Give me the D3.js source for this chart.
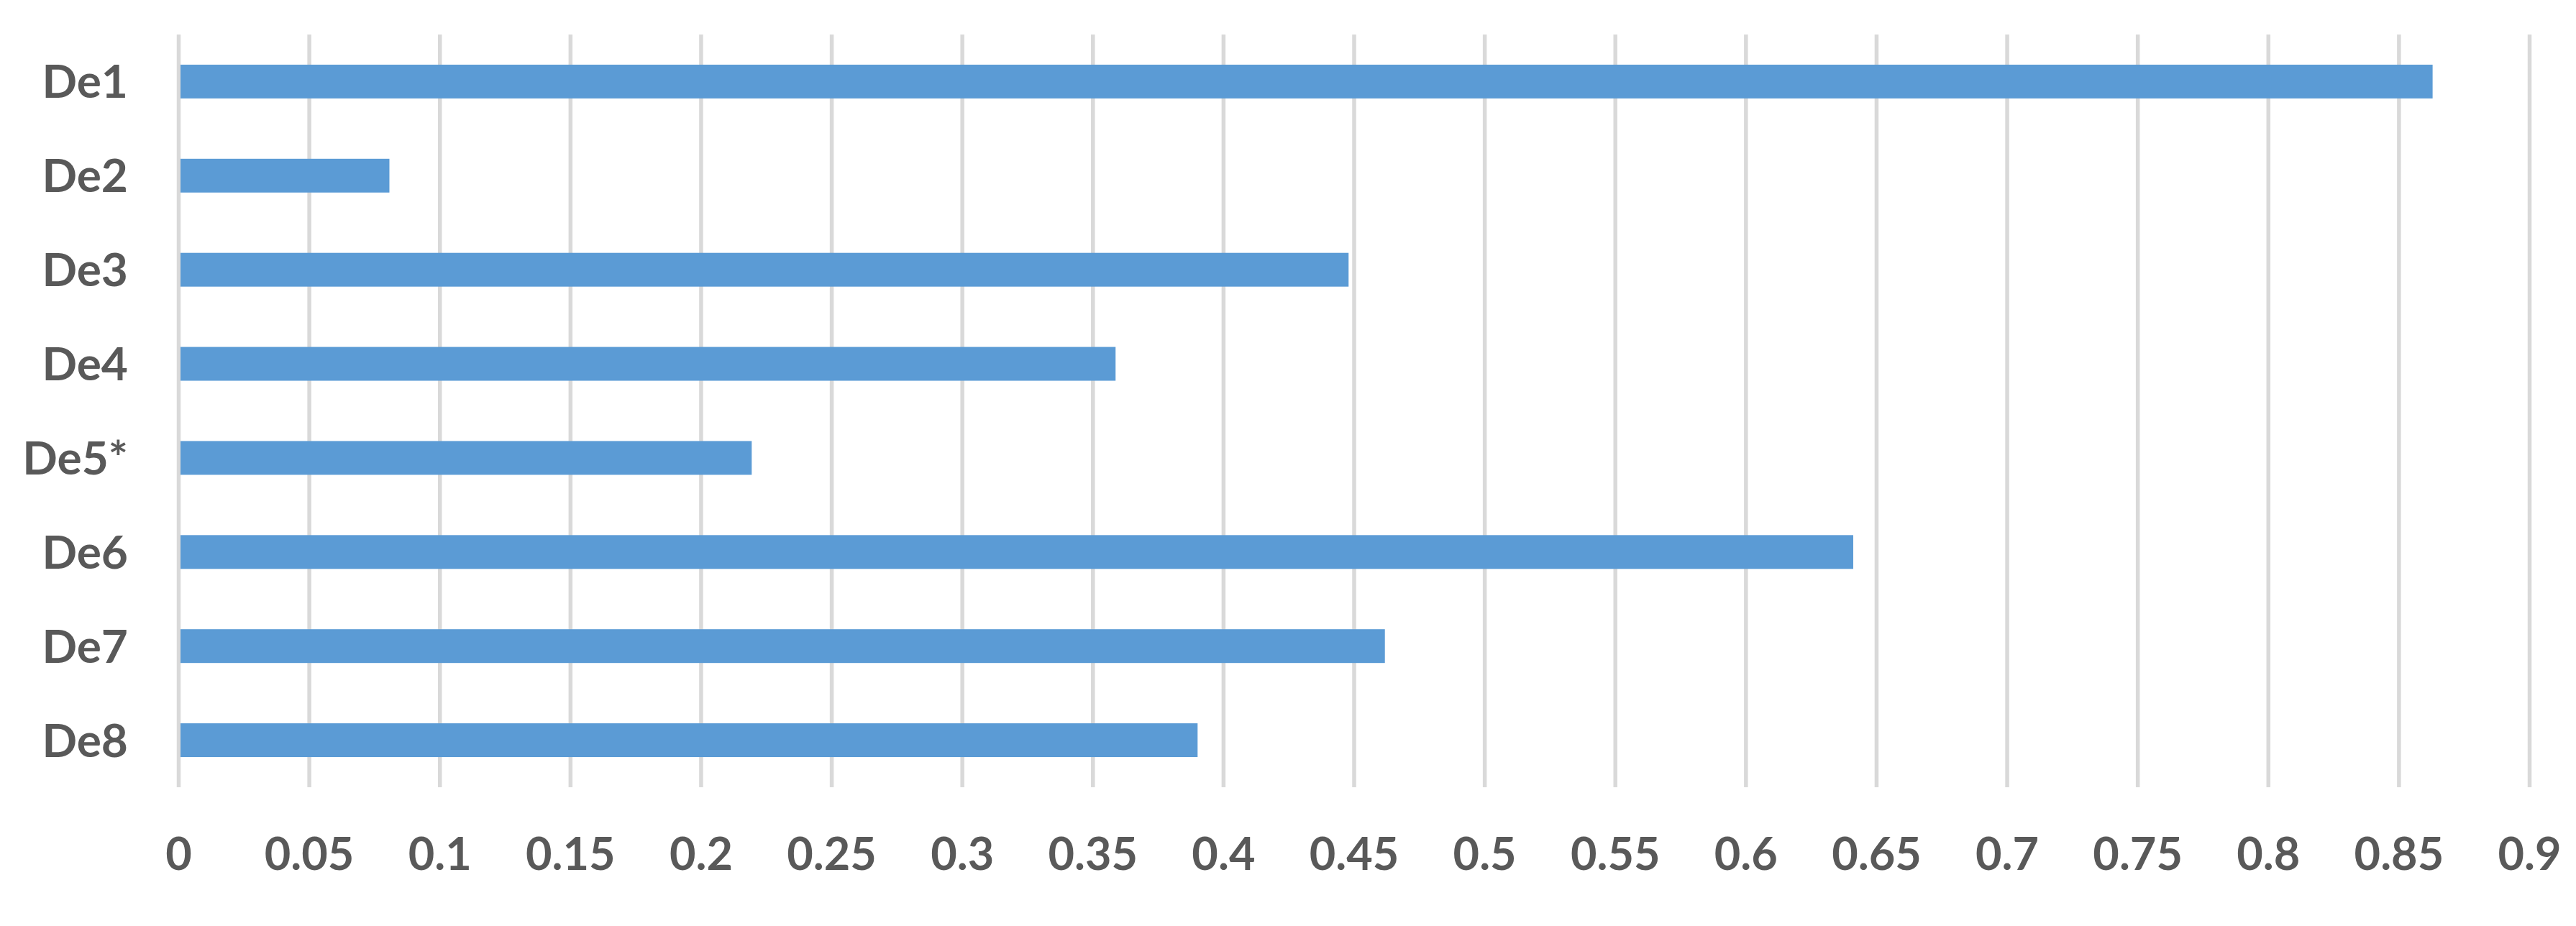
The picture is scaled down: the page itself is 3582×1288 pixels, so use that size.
<!DOCTYPE html>
<html>
<head>
<meta charset="utf-8">
<script src="https://cdn.jsdelivr.net/npm/d3@7"></script>
<style>
  body { margin: 0; background: #fff; }
  svg text { font-family: Lato, "Open Sans", sans-serif; font-weight: 700; fill: #595959; }
</style>
</head>
<body>
<div id="chart"></div>
<script>
(function() {
  var width = 3582,
    height = 1288;

  // data
  var categories = ["De1", "De2", "De3", "De4", "De5*", "De6", "De7", "De8"];
  var values = [0.863, 0.0808, 0.448, 0.3588, 0.2195, 0.6412, 0.4619, 0.3902];
  var tickValues = [0, 0.05, 0.1, 0.15, 0.2, 0.25, 0.3, 0.35, 0.4, 0.45, 0.5, 0.55, 0.6, 0.65, 0.7, 0.75, 0.8, 0.85, 0.9];
  var tickLabels = ["0", "0.05", "0.1", "0.15", "0.2", "0.25", "0.3", "0.35", "0.4", "0.45", "0.5", "0.55", "0.6", "0.65", "0.7", "0.75", "0.8", "0.85", "0.9"];

  var left = 248, right = 3517, top = 48, bottom = 1095;

  var svg = d3.select("#chart")
    .append("svg")
    .attr("width", width)
    .attr("height", height)

  var x = d3.scaleLinear().domain([0, 0.9]).range([left, right])

  var y = d3.scaleBand()
    .domain(categories)
    .range([top, bottom])
    .paddingInner(0.641)
    .paddingOuter(0.3205)

  // vertical gridlines + tick labels
  var xAxis = svg.append("g")
    .attr("transform", "translate(0," + bottom + ")")
    .call(d3.axisBottom(x)
      .tickValues(tickValues)
      .tickFormat(function(d, i) { return tickLabels[i] })
      .tickSizeInner(-(bottom - top))
      .tickSizeOuter(0))

  xAxis.select(".domain").remove()
  xAxis.selectAll(".tick line")
    .attr("stroke", "#d9d9d9")
    .attr("stroke-width", 5.5)
  xAxis.selectAll(".tick text")
    .attr("y", 115)
    .attr("dy", null)
    .attr("font-size", 63)
    .attr("fill", "#595959")

  // bars
  svg.selectAll(".bar")
    .data(values)
    .enter().append("rect")
    .attr("class", "bar")
    .attr("x", x(0) + 3)
    .attr("y", function(d, i) { return y(categories[i]) })
    .attr("width", function(d) { return x(d) - x(0) - 3 })
    .attr("height", y.bandwidth())
    .attr("fill", "#5b9bd5")

  // category labels
  var yAxis = svg.append("g")
    .attr("transform", "translate(" + left + ",0)")
    .call(d3.axisLeft(y).tickSize(0).tickPadding(70))

  yAxis.select(".domain").remove()
  yAxis.selectAll(".tick text")
    .attr("dy", "0.36em")
    .attr("font-size", 64)
    .attr("fill", "#595959")
})();
</script>
</body>
</html>
